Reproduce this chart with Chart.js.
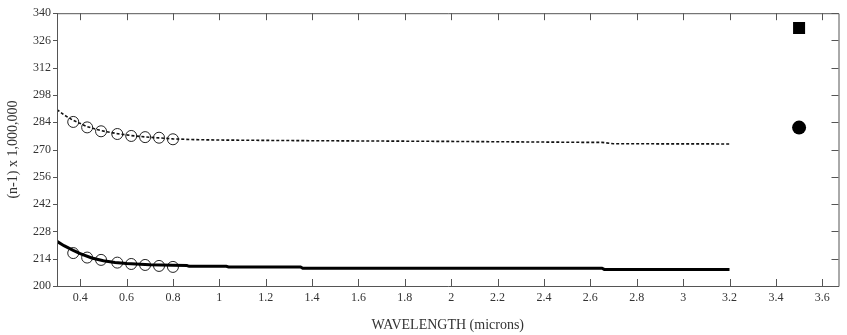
<!DOCTYPE html>
<html>
<head>
<meta charset="utf-8">
<script src="https://cdn.jsdelivr.net/npm/chart.js@4/dist/chart.umd.min.js"></script>
<style>
  html, body { margin: 0; padding: 0; background: #fff; }
  #wrap { width: 847px; height: 335px; }
</style>
</head>
<body>
<div id="wrap"><canvas id="chart"></canvas></div>
<script>
  // dotted curve (upper) and solid curve (lower)
  const upperX = [0.30, 0.33, 0.37, 0.43, 0.49, 0.56, 0.62, 0.68, 0.74, 0.80, 0.90, 1.00, 1.35, 2.00, 2.60, 2.65, 2.70, 3.20];
  const upperY = [290.5, 287.8, 285.0, 281.8, 279.7, 278.2, 277.2, 276.5, 276.0, 275.5, 275.1, 274.9, 274.6, 274.2, 273.7, 273.7, 273.0, 272.9];

  const lowerX = [0.30, 0.33, 0.37, 0.40, 0.45, 0.50, 0.55, 0.60, 0.70, 0.80, 0.86, 0.87, 1.03, 1.04, 1.35, 1.36, 2.65, 2.66, 3.20];
  const lowerY = [222.9, 220.7, 218.3, 216.6, 214.4, 213.0, 212.1, 211.5, 210.9, 210.6, 210.5, 210.1, 210.1, 209.8, 209.8, 209.1, 209.1, 208.5, 208.5];

  // open circles (measured points)
  const circleX = [0.37, 0.43, 0.49, 0.56, 0.62, 0.68, 0.74, 0.80];
  const upperCircles = [284.2, 281.4, 279.4, 278.0, 277.0, 276.4, 276.1, 275.3];
  const lowerCircles = [216.9, 214.6, 213.4, 212.0, 211.3, 210.8, 210.3, 209.8];

  // two single markers on the right
  const squarePoint = { x: 3.5, y: 332.4 };
  const dotPoint = { x: 3.5, y: 281.3 };

  const xTicks = [0.4, 0.6, 0.8, 1.0, 1.2, 1.4, 1.6, 1.8, 2.0, 2.2, 2.4, 2.6, 2.8, 3.0, 3.2, 3.4, 3.6];
  const yTicks = [200, 214, 228, 242, 256, 270, 284, 298, 312, 326, 340];

  function toPoints(xs, ys) {
    return xs.map((x, i) => ({ x: x, y: ys[i] }));
  }

  const fontFamily = "'Liberation Serif', 'Times New Roman', serif";

  // frame + inward tick marks like the original plot
  const framePlugin = {
    id: "frame",
    afterDraw(chart) {
      const { ctx, chartArea } = chart;
      const xs = chart.scales.x;
      const ys = chart.scales.y;
      const { left, right, top, bottom } = chartArea;
      ctx.save();
      ctx.strokeStyle = "#555";
      ctx.lineWidth = 1;
      ctx.beginPath();
      ctx.rect(left + 0.5, top + 0.5, right - left, bottom - top);
      ctx.stroke();

      ctx.beginPath();
      xTicks.forEach((v) => {
        const px = Math.round(xs.getPixelForValue(v)) + 0.5;
        ctx.moveTo(px, bottom);
        ctx.lineTo(px, bottom - 7);
        ctx.moveTo(px, top);
        ctx.lineTo(px, top + 7);
      });
      yTicks.forEach((v) => {
        const py = Math.round(ys.getPixelForValue(v)) + 0.5;
        ctx.moveTo(left - 4, py);
        ctx.lineTo(left + 1, py);
        ctx.moveTo(right, py);
        ctx.lineTo(right - 7, py);
      });
      ctx.stroke();
      ctx.restore();
    }
  };

  const ctx = document.getElementById("chart").getContext("2d");

  new Chart(ctx, {
    type: "scatter",
    data: {
      datasets: [
        {
          label: "upper curve",
          data: toPoints(upperX, upperY),
          showLine: true,
          borderColor: "#111",
          borderWidth: 1.6,
          borderDash: [3, 2],
          pointRadius: 0,
          tension: 0
        },
        {
          label: "lower curve",
          data: toPoints(lowerX, lowerY),
          showLine: true,
          borderColor: "#000",
          borderWidth: 3,
          pointRadius: 0,
          tension: 0
        },
        {
          label: "upper points",
          data: toPoints(circleX, upperCircles),
          pointStyle: "circle",
          pointRadius: 5.5,
          borderColor: "#222",
          borderWidth: 1,
          backgroundColor: "rgba(0,0,0,0)"
        },
        {
          label: "lower points",
          data: toPoints(circleX, lowerCircles),
          pointStyle: "circle",
          pointRadius: 5.5,
          borderColor: "#222",
          borderWidth: 1,
          backgroundColor: "rgba(0,0,0,0)"
        },
        {
          label: "square",
          data: [squarePoint],
          pointStyle: "rect",
          pointRadius: 8.5,
          borderWidth: 0,
          backgroundColor: "#000"
        },
        {
          label: "dot",
          data: [dotPoint],
          pointStyle: "circle",
          pointRadius: 7,
          borderWidth: 0,
          backgroundColor: "#000"
        }
      ]
    },
    options: {
      responsive: true,
      maintainAspectRatio: false,
      animation: false,
      layout: {
        padding: { left: 0, right: 7, top: 11, bottom: 0 }
      },
      plugins: {
        legend: { display: false },
        tooltip: { enabled: false }
      },
      scales: {
        x: {
          type: "linear",
          min: 0.3,
          max: 3.67,
          afterBuildTicks(scale) {
            scale.ticks = xTicks.map((v) => ({ value: v }));
          },
          afterFit(scale) {
            scale.height = 49;
          },
          grid: { display: false, drawTicks: false },
          border: { display: false },
          ticks: {
            padding: 5,
            maxRotation: 0,
            autoSkip: false,
            color: "#333",
            font: { family: fontFamily, size: 12 },
            callback: (v) => String(Math.round(v * 10) / 10)
          },
          title: {
            display: true,
            text: "WAVELENGTH (microns)",
            color: "#333",
            padding: { top: 1, bottom: 1 },
            font: { family: fontFamily, size: 14 }
          }
        },
        y: {
          type: "linear",
          min: 200,
          max: 340,
          afterBuildTicks(scale) {
            scale.ticks = yTicks.map((v) => ({ value: v }));
          },
          afterFit(scale) {
            scale.width = 57;
          },
          grid: { display: false, drawTicks: false },
          border: { display: false },
          ticks: {
            padding: 6,
            autoSkip: false,
            color: "#333",
            font: { family: fontFamily, size: 12 }
          },
          title: {
            display: true,
            text: "(n-1) x 1,000,000",
            color: "#333",
            padding: { top: 5, bottom: 4 },
            font: { family: fontFamily, size: 14 }
          }
        }
      }
    },
    plugins: [framePlugin]
  });
</script>
</body>
</html>
